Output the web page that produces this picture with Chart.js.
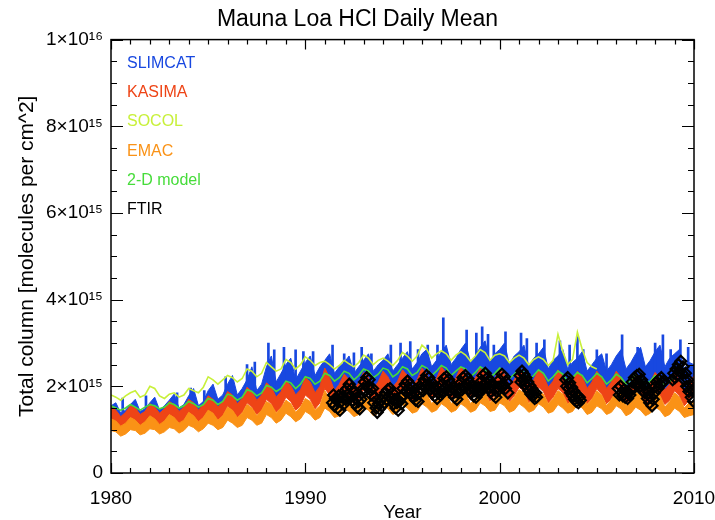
<!DOCTYPE html>
<html>
<head>
<meta charset="utf-8">
<script src="https://cdn.jsdelivr.net/npm/chart.js"></script>
<style>
html,body{margin:0;padding:0;background:#fff;}
#wrap{width:715px;height:520px;position:relative;}
</style>
</head>
<body>
<div id="wrap"><canvas id="c"></canvas></div>
<script>
// ---------- text ----------
const chartTitle = 'Mauna Loa HCl Daily Mean';
const xAxisTitle = 'Year';
const yAxisTitle = 'Total column [molecules per cm^2]';
const seriesNames = ['SLIMCAT', 'KASIMA', 'SOCOL', 'EMAC', '2-D model', 'FTIR'];
const xTickValues = [1980, 1990, 2000, 2010];
const xTickLabels = ['1980', '1990', '2000', '2010'];
const yTickValues = [0, 2, 4, 6, 8, 10];              // units of 1e15
const yTickLabels = ['0', '2×10¹⁵', '4×10¹⁵', '6×10¹⁵', '8×10¹⁵', '1×10¹⁶'];

// ---------- time grid (quarterly) ----------
const years = [1980,1981,1982,1983,1984,1985,1986,1987,1988,1989,1990,1991,1992,1993,1994,
               1995,1996,1997,1998,1999,2000,2001,2002,2003,2004,2005,2006,2007,2008,2009,2010];
const quarterOffsets = [0, 0.25, 0.5, 0.75];

// ---------- model values, units of 1e15 molecules/cm^2 ----------
const slimcatHigh = [
 1.55,1.62,1.38,1.45, 1.58,1.70,1.42,1.48, 1.62,1.75,1.45,1.55, 1.68,1.82,1.50,1.58, 1.78,1.95,1.55,1.65,
 1.90,2.05,1.70,1.80, 2.05,2.25,1.80,1.95, 2.15,2.45,1.90,2.05, 2.45,2.70,2.10,2.30, 2.50,2.65,2.15,2.35,
 2.55,2.70,2.25,2.45, 2.60,2.75,2.30,2.45, 2.55,2.70,2.30,2.45, 2.60,2.75,2.35,2.50, 2.60,2.75,2.35,2.50,
 2.65,2.80,2.40,2.55, 2.75,2.85,2.45,2.60, 2.80,2.95,2.50,2.65, 2.85,3.00,2.55,2.70, 2.90,3.05,2.55,2.75,
 2.85,3.00,2.50,2.70, 2.80,2.95,2.45,2.65, 2.75,2.90,2.40,2.60, 2.70,2.85,2.40,2.55, 2.65,2.80,2.35,2.50,
 2.65,2.75,2.35,2.50, 2.70,2.85,2.40,2.55, 2.75,2.90,2.45,2.60, 2.80,2.95,2.45,2.65, 2.75,2.85,2.40,2.55,
 2.50];
const slimcatLow = [
 1.32,1.25,1.12,1.20, 1.35,1.28,1.15,1.22, 1.38,1.30,1.18,1.25, 1.42,1.35,1.20,1.30, 1.48,1.40,1.25,1.35,
 1.52,1.45,1.30,1.40, 1.62,1.52,1.35,1.48, 1.70,1.60,1.42,1.52, 1.78,1.68,1.48,1.60, 1.82,1.72,1.52,1.62,
 1.88,1.78,1.55,1.70, 2.02,1.88,1.62,1.75, 1.98,1.85,1.65,1.78, 2.00,1.90,1.68,1.80, 2.02,1.92,1.70,1.82,
 2.05,1.95,1.72,1.85, 2.08,1.98,1.75,1.88, 2.10,2.00,1.75,1.90, 2.10,2.00,1.75,1.90, 2.08,1.98,1.72,1.88,
 2.08,1.98,1.72,1.85, 2.05,1.95,1.70,1.85, 2.05,1.95,1.70,1.82, 2.02,1.92,1.68,1.82, 2.02,1.92,1.68,1.80,
 2.02,1.90,1.68,1.80, 2.02,1.90,1.68,1.78, 2.00,1.88,1.65,1.78, 2.00,1.88,1.65,1.75, 1.98,1.85,1.62,1.75,
 1.92];
const slimcatSpikeYear = [1980.6,1981.8,1983.4,1984.1,1984.8,1985.9,1987.0,1987.4,1988.1,1988.4,
 1988.9,1989.5,1989.9,1990.4,1991.4,1992.0,1992.5,1992.9,1993.4,1994.4,
 1994.9,1995.4,1995.8,1996.3,1996.8,1997.1,1998.3,1998.8,1999.1,1999.4,
 1999.7,2000.3,2001.1,2001.4,2001.9,2002.3,2003.1,2003.6,2004.0,2004.3,
 2005.0,2005.5,2006.3,2007.1,2008.0,2008.4,2008.8,2009.3,2009.7];
const slimcatSpikeTop = [1.73,1.78,1.85,1.96,1.90,2.22,2.50,2.56,3.00,2.84,
 2.90,2.84,2.80,2.80,2.95,2.75,2.77,2.90,2.75,2.95,
 3.00,3.03,2.85,2.95,2.95,3.58,3.30,3.23,3.37,3.20,
 2.95,3.26,3.23,3.10,3.00,3.07,3.05,2.95,3.15,2.85,
 2.84,2.75,3.19,2.90,3.00,3.19,2.85,3.07,2.90];
const slimcatSpikeBase = [1.40,1.40,1.45,1.50,1.50,1.65,1.80,1.80,1.90,1.90,
 1.95,1.95,2.00,2.00,2.05,2.05,2.05,2.05,2.05,2.10,
 2.10,2.10,2.10,2.10,2.10,2.15,2.15,2.15,2.15,2.15,
 2.15,2.10,2.10,2.10,2.10,2.05,2.05,2.05,2.05,2.05,
 2.05,2.05,2.05,2.05,2.05,2.05,2.05,2.05,2.05];

const kasimaHigh = [
 1.52,1.45,1.30,1.40, 1.55,1.50,1.35,1.42, 1.60,1.52,1.38,1.48, 1.65,1.58,1.42,1.52, 1.70,1.62,1.45,1.58,
 1.78,1.70,1.52,1.65, 1.88,1.80,1.60,1.72, 1.98,1.88,1.68,1.80, 2.08,1.98,1.75,1.88, 2.12,2.02,1.80,1.92,
 2.20,2.10,1.85,2.00, 2.42,2.20,1.90,2.05, 2.28,2.15,1.92,2.08, 2.32,2.20,1.95,2.10, 2.35,2.22,1.98,2.12,
 2.38,2.25,2.00,2.15, 2.42,2.28,2.02,2.18, 2.45,2.30,2.02,2.20, 2.45,2.30,2.02,2.20, 2.42,2.28,2.00,2.18,
 2.40,2.28,2.00,2.15, 2.38,2.25,1.98,2.15, 2.38,2.25,1.98,2.12, 2.38,2.22,1.95,2.12, 2.35,2.22,1.95,2.10,
 2.35,2.20,1.95,2.10, 2.35,2.20,1.95,2.08, 2.32,2.18,1.92,2.08, 2.32,2.18,1.92,2.05, 2.30,2.15,1.90,2.05,
 2.25];
const kasimaLow = [
 1.25,1.18,1.05,1.12, 1.28,1.20,1.08,1.15, 1.30,1.22,1.10,1.18, 1.35,1.28,1.12,1.22, 1.40,1.32,1.18,1.28,
 1.45,1.38,1.22,1.32, 1.55,1.45,1.28,1.40, 1.62,1.52,1.35,1.45, 1.70,1.60,1.40,1.52, 1.75,1.65,1.45,1.55,
 1.80,1.70,1.48,1.62, 1.95,1.80,1.55,1.68, 1.90,1.78,1.58,1.70, 1.92,1.82,1.60,1.72, 1.95,1.85,1.62,1.75,
 1.98,1.88,1.65,1.78, 2.00,1.90,1.68,1.80, 2.02,1.92,1.68,1.82, 2.02,1.92,1.68,1.82, 2.00,1.90,1.65,1.80,
 2.00,1.90,1.65,1.78, 1.98,1.88,1.62,1.78, 1.98,1.88,1.62,1.75, 1.95,1.85,1.60,1.75, 1.95,1.85,1.60,1.72,
 1.95,1.82,1.60,1.72, 1.95,1.82,1.60,1.70, 1.92,1.80,1.58,1.70, 1.92,1.80,1.58,1.68, 1.90,1.78,1.55,1.68,
 1.85];

const socolValues = [
 1.80,1.75,1.68,1.78, 1.85,1.90,1.75,1.80, 2.00,1.95,1.78,1.72, 1.82,1.85,1.75,1.80, 1.95,1.90,1.85,1.98,
 2.22,2.15,2.05,2.15, 2.25,2.20,2.10,2.18, 2.40,2.35,2.22,2.30, 2.55,2.45,2.35,2.40, 2.62,2.55,2.40,2.50,
 2.68,2.60,2.48,2.55, 2.58,2.50,2.40,2.48, 2.60,2.52,2.45,2.55, 2.72,2.65,2.50,2.60, 2.65,2.58,2.48,2.60,
 2.78,2.70,2.58,2.70, 2.95,2.85,2.65,2.75, 2.82,2.75,2.60,2.72, 2.80,2.72,2.58,2.70, 2.85,2.78,2.60,2.72,
 2.75,2.70,2.55,2.65, 2.72,2.65,2.50,2.62, 2.68,2.62,2.48,2.60, 3.20,2.80,2.50,2.62, 3.25,2.85,2.55,2.45,
 2.40];

const emacHigh = [
 1.25,1.20,1.08,1.15, 1.28,1.22,1.10,1.18, 1.32,1.25,1.12,1.20, 1.35,1.28,1.15,1.22, 1.40,1.32,1.18,1.28,
 1.45,1.38,1.22,1.32, 1.52,1.45,1.28,1.38, 1.58,1.50,1.32,1.45, 1.65,1.58,1.38,1.50, 1.68,1.60,1.40,1.52,
 1.72,1.65,1.45,1.55, 1.90,1.72,1.50,1.60, 1.80,1.72,1.52,1.62, 1.82,1.75,1.55,1.65, 1.85,1.78,1.55,1.68,
 1.88,1.80,1.58,1.70, 1.90,1.82,1.60,1.72, 1.90,1.82,1.60,1.72, 1.90,1.82,1.60,1.72, 1.92,1.85,1.62,1.75,
 1.95,1.85,1.62,1.75, 1.92,1.85,1.60,1.72, 1.92,1.82,1.60,1.72, 1.90,1.82,1.58,1.70, 1.90,1.80,1.58,1.70,
 1.90,1.80,1.55,1.70, 1.88,1.80,1.55,1.68, 1.88,1.78,1.55,1.68, 1.85,1.78,1.52,1.65, 1.85,1.75,1.50,1.62,
 1.65];
const emacLow = [
 0.98,0.95,0.85,0.90, 1.00,0.98,0.88,0.92, 1.02,1.00,0.90,0.95, 1.05,1.02,0.92,0.98, 1.10,1.05,0.95,1.02,
 1.15,1.10,1.00,1.05, 1.22,1.15,1.05,1.10, 1.28,1.22,1.10,1.15, 1.35,1.28,1.15,1.22, 1.38,1.30,1.18,1.25,
 1.42,1.35,1.22,1.28, 1.50,1.42,1.28,1.32, 1.50,1.42,1.30,1.35, 1.52,1.45,1.32,1.38, 1.55,1.48,1.35,1.40,
 1.58,1.50,1.38,1.42, 1.60,1.52,1.40,1.45, 1.60,1.52,1.40,1.45, 1.60,1.52,1.40,1.45, 1.62,1.55,1.42,1.45,
 1.62,1.55,1.40,1.45, 1.60,1.52,1.40,1.45, 1.60,1.52,1.38,1.42, 1.58,1.50,1.38,1.42, 1.58,1.50,1.35,1.40,
 1.55,1.48,1.35,1.40, 1.55,1.48,1.32,1.38, 1.52,1.45,1.32,1.38, 1.52,1.45,1.30,1.35, 1.50,1.42,1.28,1.32,
 1.35];

const twoDValues = [
 1.55,1.50,1.45,1.50, 1.58,1.52,1.45,1.52, 1.58,1.55,1.48,1.52, 1.62,1.58,1.50,1.55, 1.65,1.60,1.52,1.58,
 1.72,1.68,1.58,1.65, 1.82,1.78,1.68,1.75, 1.92,1.88,1.78,1.85, 2.02,1.98,1.88,1.95, 2.12,2.08,1.95,2.05,
 2.22,2.18,2.05,2.12, 2.30,2.25,2.12,2.20, 2.35,2.30,2.15,2.25, 2.40,2.35,2.20,2.28, 2.42,2.38,2.22,2.30,
 2.45,2.40,2.25,2.32, 2.48,2.42,2.25,2.35, 2.48,2.42,2.25,2.35, 2.45,2.40,2.22,2.32, 2.45,2.38,2.20,2.30,
 2.42,2.35,2.18,2.28, 2.40,2.32,2.15,2.25, 2.38,2.30,2.12,2.22, 2.35,2.28,2.10,2.20, 2.32,2.25,2.08,2.18,
 2.30,2.22,2.05,2.15, 2.28,2.20,2.05,2.15, 2.28,2.20,2.05,2.12, 2.25,2.18,2.02,2.10,
 2.22];

// ---------- FTIR observations ----------
const ftirYear = [
 1991.40,1991.45,1991.50,1991.55,1991.60,1991.66,1991.72,1991.78,1991.84,1991.90,1991.96,
 1992.02,1992.08,1992.14,1992.20,1992.26,1992.32,1992.38,1992.44,1992.50,1992.56,1992.62,1992.68,1992.74,1992.80,1992.86,
 1992.92,1992.98,1993.04,1993.10,1993.16,1993.22,1993.28,1993.34,
 1993.40,1993.46,1993.52,1993.58,1993.64,1993.70,1993.76,1993.82,1993.88,1993.94,
 1994.00,1994.06,1994.12,1994.18,1994.24,1994.30,1994.36,1994.42,1994.48,1994.54,1994.60,1994.66,1994.72,1994.78,1994.84,1994.90,1994.96,
 1995.02,1995.08,1995.14,1995.20,1995.26,1995.32,1995.38,1995.44,1995.50,1995.56,1995.62,1995.68,1995.74,1995.80,1995.86,1995.92,
 1996.00,1996.06,1996.12,1996.18,1996.24,1996.30,1996.36,1996.42,1996.48,1996.54,1996.60,1996.66,1996.72,1996.78,1996.84,1996.90,1996.96,
 1997.02,1997.08,1997.14,1997.20,1997.26,1997.32,1997.38,1997.44,1997.50,1997.56,1997.62,1997.68,1997.74,1997.80,1997.86,1997.92,
 1998.00,1998.06,1998.12,1998.18,1998.24,1998.30,1998.36,1998.42,1998.48,1998.54,1998.60,1998.66,1998.72,1998.78,1998.84,1998.90,1998.96,
 1999.02,1999.08,1999.14,1999.20,1999.26,1999.32,1999.38,1999.44,1999.50,1999.56,1999.62,1999.68,1999.74,1999.80,1999.86,1999.92,
 2000.00,2000.06,2000.12,2000.18,2000.24,2000.30,2000.36,2000.42,
 2001.05,2001.10,2001.15,2001.20,2001.25,2001.30,2001.35,2001.40,2001.45,2001.50,2001.55,2001.60,2001.65,2001.70,2001.75,2001.80,2001.85,2001.90,
 2003.40,2003.45,2003.50,2003.55,2003.60,2003.65,2003.70,2003.75,2003.80,2003.85,2003.90,2003.95,2004.00,2004.05,2004.10,2004.15,
 2006.10,2006.16,2006.22,2006.28,2006.34,2006.40,2006.46,2006.52,2006.58,2006.64,2006.70,2006.76,2006.82,2006.88,2006.94,2007.00,
 2007.06,2007.12,2007.18,2007.24,2007.30,2007.36,2007.42,2007.48,2007.54,2007.60,2007.66,2007.72,2007.78,2007.84,2007.90,2007.96,
 2008.02,2008.08,2008.14,2008.20,2008.26,2008.32,2008.38,2008.44,
 2008.90,2008.96,2009.02,2009.08,2009.14,2009.20,2009.26,2009.32,2009.38,2009.44,2009.50,2009.56,2009.62,2009.68,2009.74,2009.80,2009.86,2009.92,2009.98];
const ftirValue = [
 1.62,1.80,1.55,1.72,1.68,1.50,1.78,1.45,1.65,1.75,1.58,
 1.88,1.70,1.95,1.82,2.05,1.78,1.95,1.68,1.85,1.60,1.72,1.52,1.65,1.48,1.70,
 1.85,1.95,2.10,1.90,2.20,2.00,2.15,1.92,
 1.80,1.95,1.62,1.75,1.50,1.40,1.60,1.48,1.68,1.55,
 1.75,1.62,1.85,1.70,1.92,1.78,1.95,1.72,1.85,1.60,1.70,1.50,1.62,1.45,1.65,1.75,1.60,
 1.95,1.80,2.05,1.90,2.12,1.95,2.05,1.85,1.98,1.75,1.85,1.68,1.80,1.65,1.85,1.95,
 2.05,1.90,2.15,2.00,2.25,2.05,2.20,1.95,2.10,1.85,1.98,1.78,1.90,1.72,1.85,1.95,1.80,
 2.05,1.90,2.18,1.98,2.22,2.02,2.15,1.92,2.05,1.82,1.95,1.75,1.88,1.70,1.85,1.95,
 2.08,1.92,2.20,2.00,2.25,2.05,2.18,1.95,2.08,1.85,1.98,1.78,1.90,1.75,1.88,1.98,1.85,
 2.10,1.95,2.25,2.05,2.30,2.08,2.20,1.98,2.10,1.88,2.00,1.80,1.92,1.75,1.88,1.98,
 2.15,2.00,2.28,2.05,2.22,1.95,2.10,1.85,
 2.25,2.10,2.35,2.15,2.28,2.05,2.20,1.98,2.10,1.90,2.02,1.82,1.95,1.78,1.88,1.72,1.85,1.75,
 2.15,2.00,2.20,1.95,2.08,1.85,1.98,1.78,1.90,1.70,1.82,1.65,1.78,1.62,1.75,1.68,
 1.95,1.80,2.00,1.85,1.78,1.92,1.75,1.88,1.72,1.85,1.80,1.95,2.10,1.95,2.20,2.05,
 2.25,2.10,2.28,2.00,2.15,1.90,2.05,1.85,1.95,1.72,1.85,1.62,1.75,1.55,1.70,1.85,
 2.00,2.10,1.95,2.15,2.05,2.20,2.08,2.12,
 2.15,2.30,2.20,2.40,2.25,2.50,2.35,2.58,2.30,2.45,2.15,2.30,2.00,2.15,1.88,2.02,1.75,1.90,1.65];

// ---------- styles ----------
const colBlue = '#1848e0', colRed = '#ee4416', colYellow = '#c8f03a', colOrange = '#fa9216', colGreen = '#46dc3a', colBlack = '#000';
const legendColors = [colBlue, colRed, colYellow, colOrange, colGreen, colBlack];
const FONT = "'Liberation Sans', Arial, sans-serif";

function quarterly(vals) {
  return vals.map((v, i) => ({ x: years[Math.floor(i / 4)] + quarterOffsets[i % 4], y: v }));
}
function band(color, data, fill, order) {
  return { type: 'line', data, borderColor: color, backgroundColor: color, borderWidth: 1,
           pointRadius: 0, tension: 0, fill, order };
}

const datasets = [
  band(colBlue, quarterly(slimcatLow), false, 10),
  band(colBlue, quarterly(slimcatHigh), '-1', 9),
  { type: 'bar', data: slimcatSpikeYear.map((yr, i) => ({ x: yr, y: [slimcatSpikeBase[i], slimcatSpikeTop[i]] })),
    backgroundColor: colBlue, borderWidth: 0, barThickness: 2, order: 8 },
  band(colRed, quarterly(kasimaLow), false, 7),
  band(colRed, quarterly(kasimaHigh), '-1', 6),
  { type: 'line', data: quarterly(socolValues), borderColor: colYellow, borderWidth: 1.6, pointRadius: 0, tension: 0, fill: false, order: 5 },
  band(colOrange, quarterly(emacLow), false, 4),
  band(colOrange, quarterly(emacHigh), '-1', 3),
  { type: 'line', data: quarterly(twoDValues), borderColor: colGreen, borderWidth: 1.6, pointRadius: 0, tension: 0, fill: false, order: 2 },
  { type: 'line', data: ftirYear.map((yr, i) => ({ x: yr, y: ftirValue[i] })), showLine: false,
    pointStyle: 'rectRot', pointRadius: 5.5, pointBorderWidth: 2.2, pointBorderColor: colBlack,
    pointBackgroundColor: 'rgba(0,0,0,0)', borderColor: colBlack, order: 1 }
];

const framePlugin = {
  id: 'frame',
  afterDatasetsDraw(chart) {
    const { ctx, chartArea: a, scales: { x, y } } = chart;
    ctx.save();
    ctx.strokeStyle = '#000';
    ctx.lineWidth = 1.5;
    ctx.strokeRect(a.left, a.top, a.right - a.left, a.bottom - a.top);
    ctx.lineWidth = 1.2;
    ctx.beginPath();
    for (let yr = 1980; yr <= 2010; yr++) {
      const px = Math.round(x.getPixelForValue(yr)) + 0.5;
      const len = yr % 10 === 0 ? 10 : 5;
      ctx.moveTo(px, a.bottom); ctx.lineTo(px, a.bottom - len);
      ctx.moveTo(px, a.top); ctx.lineTo(px, a.top + len);
    }
    for (let k = 0; k <= 20; k++) {
      const py = Math.round(y.getPixelForValue(k * 0.5)) + 0.5;
      const len = k % 4 === 0 ? 12 : 6;
      ctx.moveTo(a.left, py); ctx.lineTo(a.left + len, py);
      ctx.moveTo(a.right, py); ctx.lineTo(a.right - len, py);
    }
    ctx.stroke();
    ctx.restore();
  }
};

const legendPlugin = {
  id: 'textLegend',
  afterDraw(chart) {
    const { ctx, chartArea: a } = chart;
    ctx.save();
    ctx.font = '16px ' + FONT;
    ctx.textAlign = 'left';
    ctx.textBaseline = 'alphabetic';
    seriesNames.forEach((name, i) => {
      ctx.fillStyle = legendColors[i];
      ctx.fillText(name, a.left + 16, a.top + 28 + i * 29.3);
    });
    ctx.restore();
  }
};

new Chart(document.getElementById('c'), {
  type: 'line',
  data: { datasets },
  options: {
    responsive: true,
    maintainAspectRatio: false,
    devicePixelRatio: 1,
    animation: false,
    layout: { padding: { left: 0, right: 0, top: 0, bottom: 0 } },
    plugins: {
      legend: { display: false },
      tooltip: { enabled: false },
      title: { display: true, text: chartTitle, color: '#000',
               font: { family: FONT, size: 23, weight: 'normal' }, padding: { top: 6, bottom: 6 } }
    },
    scales: {
      x: {
        type: 'linear', min: 1980, max: 2010, offset: false,
        afterFit(s) { s.height = 47; s.paddingRight = 21; },
        grid: { display: false, drawTicks: false },
        border: { display: false },
        ticks: { stepSize: 10, autoSkip: false, maxRotation: 0, padding: 14, color: '#000',
                 font: { family: FONT, size: 19 },
                 callback: v => { const i = xTickValues.indexOf(v); return i >= 0 ? xTickLabels[i] : ''; } },
        title: { display: true, text: xAxisTitle, color: '#000', font: { family: FONT, size: 19 }, padding: { top: 0, bottom: -4 } }
      },
      y: {
        min: 0, max: 10,
        afterFit(s) { s.width = 111; },
        grid: { display: false, drawTicks: false },
        border: { display: false },
        ticks: { stepSize: 2, padding: 8, color: '#000', font: { family: FONT, size: 19 },
                 callback: v => { const i = yTickValues.indexOf(v); return i >= 0 ? yTickLabels[i] : ''; } },
        title: { display: true, text: yAxisTitle, color: '#000', font: { family: FONT, size: 21 }, padding: { top: 15, bottom: 0 } }
      }
    }
  },
  plugins: [framePlugin, legendPlugin]
});
</script>
</body>
</html>
